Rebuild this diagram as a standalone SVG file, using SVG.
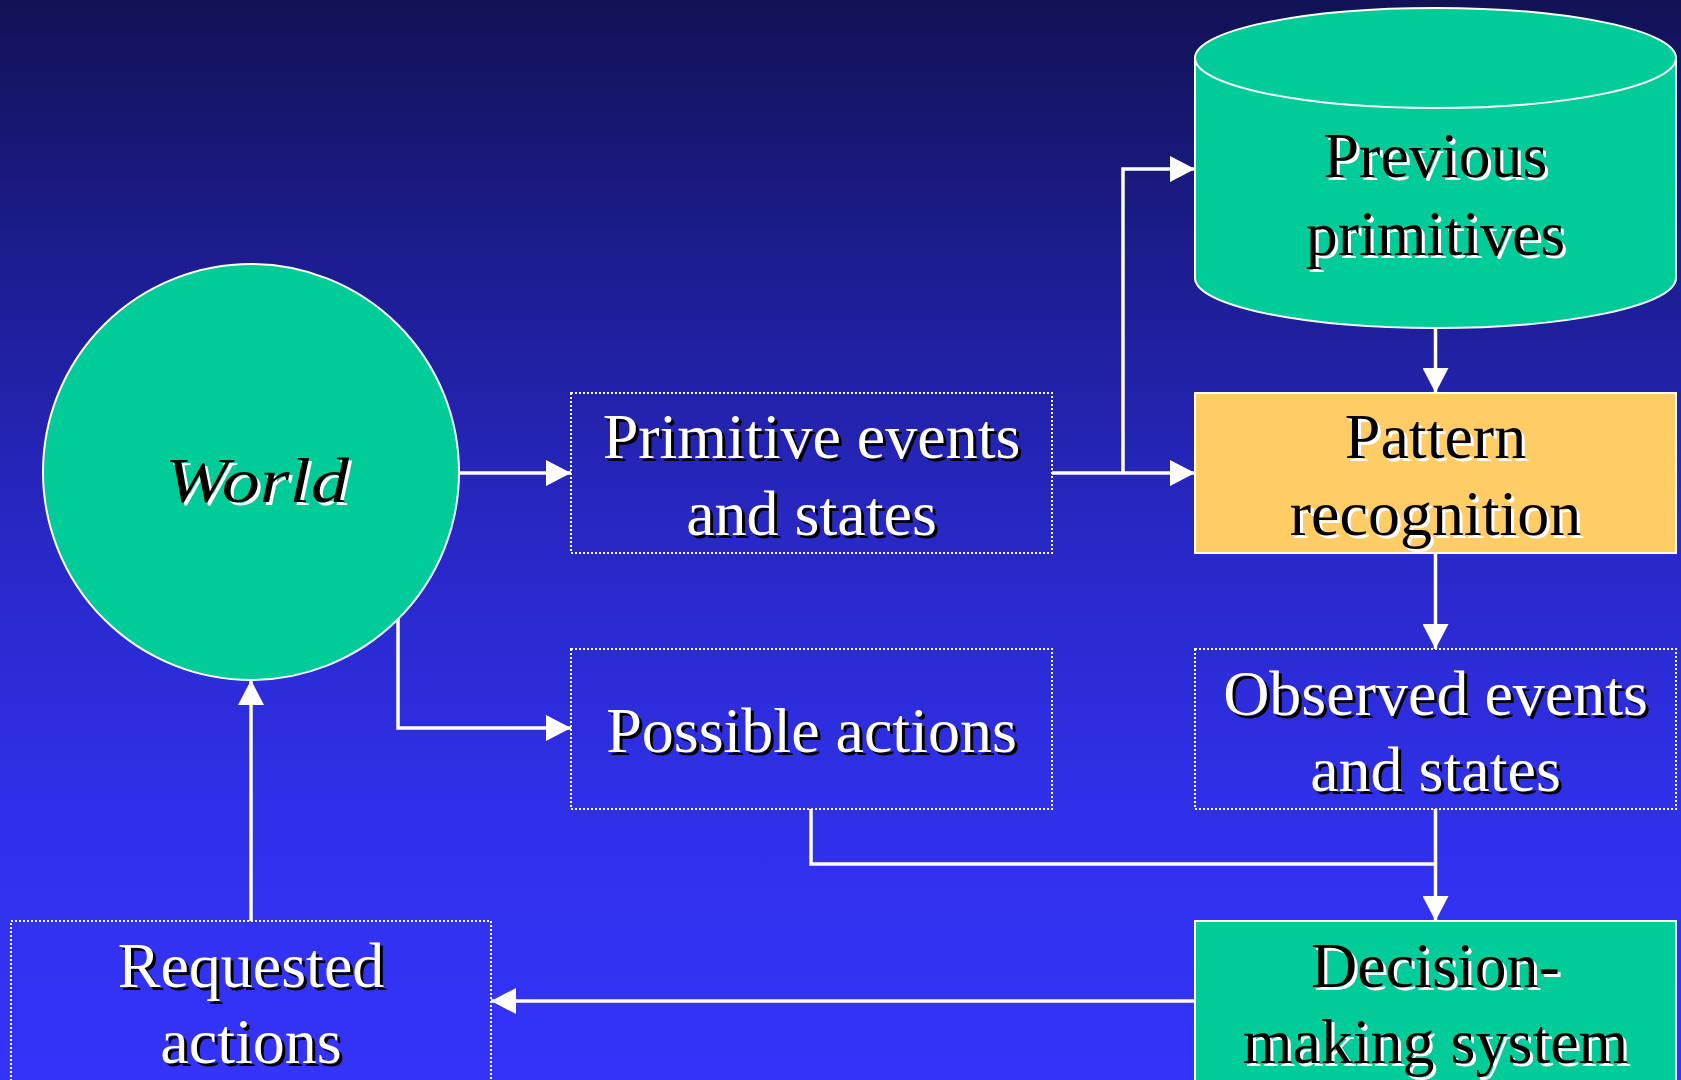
<svg xmlns="http://www.w3.org/2000/svg" width="1681" height="1080" viewBox="0 0 1681 1080">
<defs>
<linearGradient id="bg" x1="0" y1="0" x2="0" y2="1">
<stop offset="0" stop-color="#121256"/>
<stop offset="0.25" stop-color="#1d1d92"/>
<stop offset="0.5" stop-color="#2828c6"/>
<stop offset="0.75" stop-color="#3030ea"/>
<stop offset="1" stop-color="#3434fa"/>
</linearGradient>
<marker id="ah" markerUnits="userSpaceOnUse" viewBox="0 0 25 26" markerWidth="25" markerHeight="26" refX="25" refY="13" orient="auto">
<path d="M0,0 L25,13 L0,26 Z" fill="#ffffff"/>
</marker>
<style>
.lbl{font-family:"Liberation Serif","Times New Roman",serif;font-size:64px;text-anchor:middle}
.w{fill:#ffffff}
.ws{fill:#000000}
.b{fill:#000000}
.bs{fill:#ffffff}
.dot{fill:none;stroke:#ffffff;stroke-width:2;stroke-dasharray:2 2}
.solid{stroke:#ffffff;stroke-width:2}
.conn{fill:none;stroke:#ffffff;stroke-width:3.5}
</style>
</defs>
<rect x="0" y="0" width="1681" height="1080" fill="url(#bg)"/>

<g id="connectors">
<path class="conn" d="M459,473 L571,473" marker-end="url(#ah)"/>
<path class="conn" d="M1052,473 L1195,473" marker-end="url(#ah)"/>
<path class="conn" d="M1123,473 L1123,169 L1195,169" marker-end="url(#ah)"/>
<path class="conn" d="M1435.5,328 L1435.5,393" marker-end="url(#ah)"/>
<path class="conn" d="M1435.5,553 L1435.5,649" marker-end="url(#ah)"/>
<path class="conn" d="M1435.5,809 L1435.5,921" marker-end="url(#ah)"/>
<path class="conn" d="M811,809 L811,864 L1435.5,864"/>
<path class="conn" d="M1195,1001 L491,1001" marker-end="url(#ah)"/>
<path class="conn" d="M251,921 L251,680" marker-end="url(#ah)"/>
<path class="conn" d="M398,619 L398,728 L571,728" marker-end="url(#ah)"/>
</g>

<g id="world">
<circle cx="251" cy="472" r="208" fill="#00cc99" class="solid"/>
<text class="lbl bs" x="260" y="505" font-style="italic" font-size="80" textLength="184" lengthAdjust="spacingAndGlyphs">World</text>
<text class="lbl b" x="257" y="502" font-style="italic" font-size="80" textLength="184" lengthAdjust="spacingAndGlyphs">World</text>
</g>

<g id="previous-primitives">
<path d="M1195,58 A240.5,50 0 0 1 1676,58 L1676,278 A240.5,50 0 0 1 1195,278 Z" fill="#00cc99" class="solid"/>
<path d="M1195,58 A240.5,50 0 0 0 1676,58" fill="none" class="solid"/>
<text class="lbl bs" x="1438.5" y="180">Previous</text>
<text class="lbl b" x="1435.5" y="177">Previous</text>
<text class="lbl bs" x="1438.5" y="258">primitives</text>
<text class="lbl b" x="1435.5" y="255">primitives</text>
</g>

<g id="primitive-events">
<rect x="571" y="393" width="481" height="160" class="dot"/>
<text class="lbl ws" x="814.5" y="461">Primitive events</text>
<text class="lbl w" x="811.5" y="458">Primitive events</text>
<text class="lbl ws" x="814.5" y="538">and states</text>
<text class="lbl w" x="811.5" y="535">and states</text>
</g>

<g id="pattern-recognition">
<rect x="1195" y="393" width="481" height="160" fill="#ffcc66" class="solid"/>
<text class="lbl bs" x="1438.5" y="461">Pattern</text>
<text class="lbl b" x="1435.5" y="458">Pattern</text>
<text class="lbl bs" x="1438.5" y="538">recognition</text>
<text class="lbl b" x="1435.5" y="535">recognition</text>
</g>

<g id="possible-actions">
<rect x="571" y="649" width="481" height="160" class="dot"/>
<text class="lbl ws" x="814.5" y="755">Possible actions</text>
<text class="lbl w" x="811.5" y="752">Possible actions</text>
</g>

<g id="observed-events">
<rect x="1195" y="649" width="481" height="160" class="dot"/>
<text class="lbl ws" x="1438.5" y="718">Observed events</text>
<text class="lbl w" x="1435.5" y="715">Observed events</text>
<text class="lbl ws" x="1438.5" y="794">and states</text>
<text class="lbl w" x="1435.5" y="791">and states</text>
</g>

<g id="decision-making">
<rect x="1195" y="921" width="481" height="162" fill="#00cc99" class="solid"/>
<text class="lbl bs" x="1438.5" y="990">Decision-</text>
<text class="lbl b" x="1435.5" y="987">Decision-</text>
<text class="lbl bs" x="1438.5" y="1066">making system</text>
<text class="lbl b" x="1435.5" y="1063">making system</text>
</g>

<g id="requested-actions">
<rect x="11" y="921" width="480" height="162" class="dot"/>
<text class="lbl ws" x="254" y="990">Requested</text>
<text class="lbl w" x="251" y="987">Requested</text>
<text class="lbl ws" x="254" y="1066">actions</text>
<text class="lbl w" x="251" y="1063">actions</text>
</g>
</svg>
